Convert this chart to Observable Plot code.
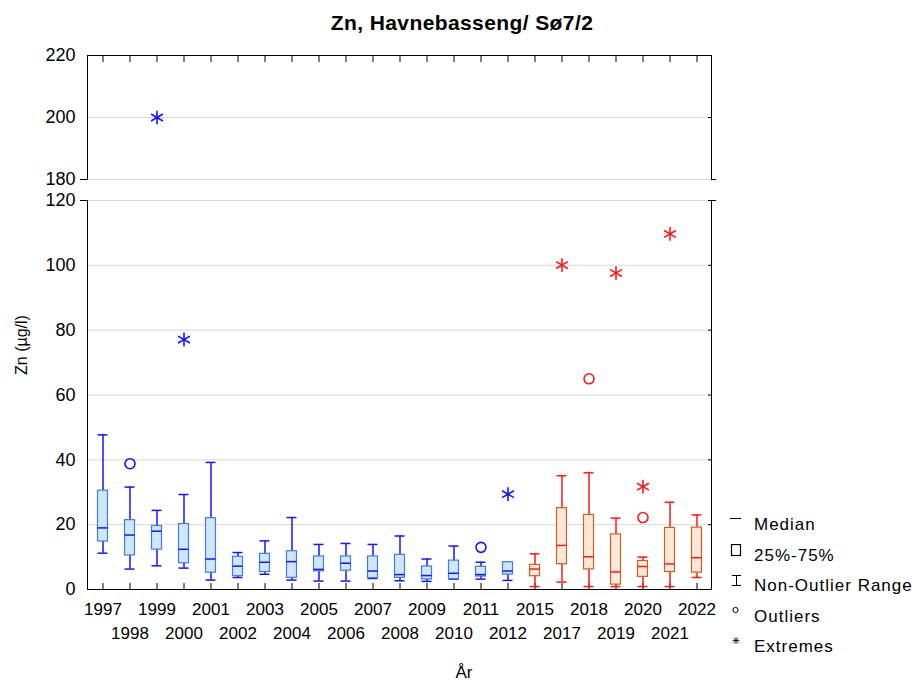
<!DOCTYPE html>
<html>
<head>
<meta charset="utf-8">
<script src="https://cdn.jsdelivr.net/npm/d3@7"></script>
<script src="https://cdn.jsdelivr.net/npm/@observablehq/plot@0.6"></script>
<style>
  html, body { margin: 0; padding: 0; background: #fff; }
  #wrap { position: relative; width: 916px; height: 684px; font-family: "Liberation Sans", Arial, sans-serif; color: #000; overflow: hidden; }
  #wrap svg.plotpanel { position: absolute; left: 0; }
  .title { position: absolute; top: 11px; left: 262px; width: 400px; text-align: center; font-weight: bold; font-size: 21px; letter-spacing: 0.4px; }
  .xlabel { position: absolute; top: 663px; left: 414px; width: 100px; text-align: center; font-size: 17px; }
  .ylabel { position: absolute; left: 22px; top: 345px; transform: translate(-50%, -50%) rotate(-90deg); font-size: 16px; white-space: nowrap; }
  .legend { position: absolute; left: 726px; top: 513px; font-size: 17px; letter-spacing: 1px; }
  .legend .item { position: relative; height: 30.5px; }
  .legend .item svg { position: absolute; left: 0; top: 0; }
  .legend .item span { position: absolute; left: 28px; top: 2px; white-space: nowrap; }
</style>
</head>
<body>
<div id="wrap">
  <div class="title">Zn, Havnebasseng/ Sø7/2</div>
  <div class="ylabel">Zn (µg/l)</div>
  <div class="xlabel">År</div>
  <div class="legend">
    <div class="item"><svg width="20" height="20"><line x1="4" x2="15" y1="5.5" y2="5.5" stroke="#000" stroke-width="1"/></svg><span>Median</span></div>
    <div class="item"><svg width="20" height="24"><rect x="5.5" y="0.5" width="9" height="11" fill="none" stroke="#000" stroke-width="1.2"/></svg><span>25%-75%</span></div>
    <div class="item"><svg width="20" height="24"><path d="M6,1.5H15M10.5,1.5V11.5M6,11.5H15" fill="none" stroke="#000" stroke-width="1"/></svg><span>Non-Outlier Range</span></div>
    <div class="item"><svg width="20" height="24"><circle cx="9.5" cy="5" r="2.6" fill="none" stroke="#000" stroke-width="1"/></svg><span>Outliers</span></div>
    <div class="item"><svg width="20" height="24"><path d="M10,2V9M6.5,5.5H13.5M7.5,3L12.5,8M12.5,3L7.5,8" fill="none" stroke="#000" stroke-width="0.8"/></svg><span>Extremes</span></div>
  </div>
</div>
<script>
// ---- data ----
const years = ["1997","1998","1999","2000","2001","2002","2003","2004","2005","2006","2007","2008","2009","2010","2011","2012","2015","2017","2018","2019","2020","2021","2022"];
const whiskerLow  = [11.2, 6.3, 7.3, 6.6, 2.9, 3.7, 4.7, 2.9, 2.6, 2.6, 3.4, 2.7, 2.5, 3.2, 3.2, 2.8, 0.9, 2.3, 0.9, 0.9, 0.9, 0.9, 3.7];
const q1          = [14.8, 10.5, 12.3, 8.1, 5.2, 4.1, 5.4, 3.6, 5.6, 5.8, 3.5, 3.6, 3.1, 3.2, 4.0, 4.6, 4.1, 7.8, 6.2, 1.5, 3.9, 5.4, 5.2];
const median      = [19.0, 16.8, 18.0, 12.4, 9.4, 7.2, 8.4, 8.6, 6.2, 8.1, 5.7, 4.6, 4.3, 5.0, 4.6, 5.7, 6.3, 13.6, 10.1, 5.4, 7.1, 7.9, 9.8];
const q3          = [30.5, 21.4, 19.6, 20.2, 22.0, 10.1, 11.0, 11.8, 10.2, 10.2, 10.2, 10.7, 7.1, 8.9, 7.0, 8.4, 7.6, 25.1, 23.0, 17.0, 8.8, 19.0, 19.1];
const whiskerHigh = [47.7, 31.6, 24.4, 29.3, 39.2, 11.4, 15.0, 22.2, 13.9, 14.2, 13.9, 16.5, 9.4, 13.4, 8.4, 8.4, 11.0, 35.1, 36.0, 22.0, 10.0, 26.9, 23.0];
const outlierYears  = ["1998", "2011", "2018", "2020"];
const outlierValues = [38.8, 13.0, 65.0, 22.2];
const extremeYears  = ["1999", "2000", "2012", "2017", "2019", "2020", "2021"];
const extremeValues = [200, 77.1, 29.4, 100.1, 97.6, 31.7, 109.7];
const upperTicks = [180, 200, 220];
const lowerTicks = [0, 20, 40, 60, 80, 100, 120];

// ---- derived tables ----
const isNew = y => +y >= 2015;
const boxes = years.map((y, i) => ({year: y, lo: whiskerLow[i], q1: q1[i], med: median[i], q3: q3[i], hi: whiskerHigh[i], grp: isNew(y) ? "new" : "old"}));
const outliers = outlierYears.map((y, i) => ({year: y, v: outlierValues[i], grp: isNew(y) ? "new" : "old"}));
const extremes = extremeYears.map((y, i) => ({year: y, v: extremeValues[i], grp: isNew(y) ? "new" : "old"}));

const lineCol = g => g === "new" ? "#ff1a1a" : "#1414ff";
const boxFill = g => g === "new" ? "#fde7d9" : "#cfe5fa";
const boxStroke = g => g === "new" ? "#c2651f" : "#3f7fdc";

const W = 916, ML = 87, MR = 205;
const inset = 8.5;
const FONT = "Liberation Sans, Arial, sans-serif";

function dataMarks(yDomain) {
  const inD = v => v >= yDomain[0] && v <= yDomain[1];
  const bx = boxes.filter(d => d.hi >= yDomain[0] && d.lo <= yDomain[1]);
  return [
    Plot.ruleX(bx, {x: "year", y1: "lo", y2: "hi", stroke: d => lineCol(d.grp), strokeWidth: 1.5}),
    Plot.tickY(bx, {x: "year", y: "lo", stroke: d => lineCol(d.grp), strokeWidth: 1.5, insetLeft: inset, insetRight: inset}),
    Plot.tickY(bx, {x: "year", y: "hi", stroke: d => lineCol(d.grp), strokeWidth: 1.5, insetLeft: inset, insetRight: inset}),
    Plot.barY(bx, {x: "year", y1: "q1", y2: "q3", fill: d => boxFill(d.grp), stroke: d => boxStroke(d.grp), strokeWidth: 1.2, insetLeft: inset, insetRight: inset}),
    Plot.tickY(bx, {x: "year", y: "med", stroke: d => lineCol(d.grp), strokeWidth: 1.5, insetLeft: inset, insetRight: inset}),
    Plot.dot(outliers.filter(d => inD(d.v)), {x: "year", y: "v", r: 5, stroke: d => lineCol(d.grp), strokeWidth: 1.6, fill: "none"}),
    Plot.dot(extremes.filter(d => inD(d.v)), {x: "year", y: "v", r: 6.5, symbol: "asterisk", stroke: d => lineCol(d.grp), strokeWidth: 1.6})
  ];
}

const common = {
  width: W, marginLeft: ML, marginRight: MR,
  className: "plotpanel",
  style: {fontFamily: FONT, fontSize: "16px", color: "#000", background: "transparent", overflow: "visible"},
  x: {type: "band", domain: years, paddingInner: 0, paddingOuter: 0, axis: null}
};
const blank = () => "";

// upper panel 180..220
const upper = Plot.plot({
  ...common,
  height: 195, marginTop: 55, marginBottom: 16,
  y: {domain: [180, 220], axis: null},
  marks: [
    Plot.gridY(upperTicks, {stroke: "#d9d9d9", strokeOpacity: 1}),
    Plot.axisY(upperTicks, {tickSize: 0, tickPadding: 12, fontSize: 18, label: null}),
    Plot.axisY([180], {tickSize: 7, tickFormat: blank, label: null}),
    Plot.axisY([180], {anchor: "right", tickSize: 4, tickFormat: blank, label: null}),
    Plot.axisY([200], {anchor: "right", tickSize: 4, dx: -4, tickFormat: blank, label: null}),
    Plot.axisX(years, {anchor: "top", tickSize: 6, dy: 6, tickFormat: blank, label: null}),
    Plot.frame({anchor: "left", stroke: "#000"}),
    Plot.frame({anchor: "top", stroke: "#000"}),
    Plot.frame({anchor: "right", stroke: "#000"}),
    ...dataMarks([180, 220])
  ]
});
upper.style.top = "0px";

// lower panel 0..120
const evens = years.filter((d, i) => i % 2 === 0);
const odds = years.filter((d, i) => i % 2 === 1);
const lower = Plot.plot({
  ...common,
  height: 459, marginTop: 10, marginBottom: 60,
  y: {domain: [0, 120], axis: null},
  marks: [
    Plot.gridY(lowerTicks.filter(v => v > 0), {stroke: "#d9d9d9", strokeOpacity: 1}),
    Plot.axisY(lowerTicks, {tickSize: 0, tickPadding: 12, fontSize: 18, label: null}),
    Plot.axisY([120], {tickSize: 7, tickFormat: blank, label: null}),
    Plot.axisY([120], {anchor: "right", tickSize: 4, tickFormat: blank, label: null}),
    Plot.axisY(lowerTicks.filter(v => v > 0), {anchor: "right", tickSize: 4, dx: -4, tickFormat: blank, label: null}),
    Plot.axisX(years, {anchor: "bottom", tickSize: 6, dy: -6, tickFormat: blank, label: null}),
    Plot.axisX(evens, {anchor: "bottom", tickSize: 0, tickPadding: 13, fontSize: 17, label: null}),
    Plot.axisX(odds, {anchor: "bottom", tickSize: 0, tickPadding: 37, fontSize: 17, label: null}),
    Plot.frame({anchor: "left", stroke: "#000"}),
    Plot.frame({anchor: "bottom", stroke: "#000"}),
    Plot.frame({anchor: "right", stroke: "#000"}),
    ...dataMarks([0, 120])
  ]
});
lower.style.top = "190px";

const wrap = document.getElementById("wrap");
wrap.appendChild(upper);
wrap.appendChild(lower);
</script>
</body>
</html>
